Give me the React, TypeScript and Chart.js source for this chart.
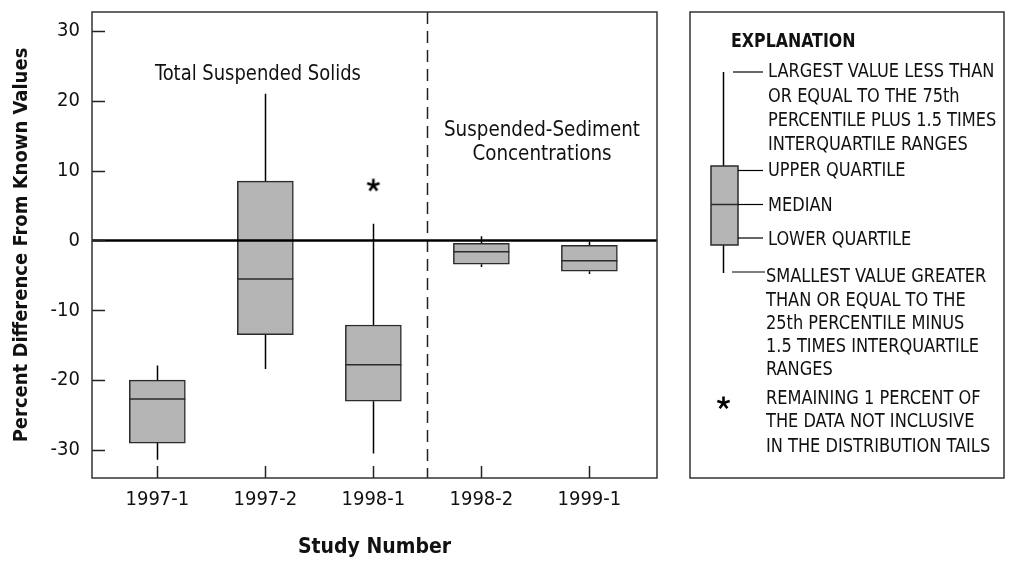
import React, { useEffect, useRef } from 'react';
import { Chart, registerables } from 'chart.js';

Chart.register(...registerables);

// ---------- data ----------
const categories = ['1997-1', '1997-2', '1998-1', '1998-2', '1999-1'];
const studyIndex = [1, 2, 3, 4, 5];
const upperWhisker = [-17.9, 21.0, 2.4, 0.6, -0.2];
const upperQuartile = [-20.0, 8.5, -12.1, -0.4, -0.7];
const medianValue = [-22.7, -5.5, -17.8, -1.6, -2.9];
const lowerQuartile = [-29.0, -13.5, -23.0, -3.4, -4.4];
const lowerWhisker = [-31.4, -18.4, -30.5, -3.8, -4.8];
const outlierStudy = [3];
const outlierValue = [7.9];
const yTickValues = [-30, -20, -10, 0, 10, 20, 30];
const dividerAt = 3.5;

const legendLines = [
  'LARGEST VALUE LESS THAN',
  'OR EQUAL TO THE 75th',
  'PERCENTILE PLUS 1.5 TIMES',
  'INTERQUARTILE RANGES',
  'UPPER QUARTILE',
  'MEDIAN',
  'LOWER QUARTILE',
  'SMALLEST VALUE GREATER',
  'THAN OR EQUAL TO THE',
  '25th PERCENTILE MINUS',
  '1.5 TIMES INTERQUARTILE',
  'RANGES',
  'REMAINING 1 PERCENT OF',
  'THE DATA NOT INCLUSIVE',
  'IN THE DISTRIBUTION TAILS',
];

// ---------- styling ----------
const FONT = "'DejaVu Sans Condensed', 'Liberation Sans Narrow', 'Arial Narrow', sans-serif";
const BOX_FILL = '#b5b5b5';
const BOX_EDGE = '#2b2b2b';
const INK = '#111111';

function drawAsterisk(g: CanvasRenderingContext2D, cx: number, cy: number, r: number) {
  g.save();
  g.strokeStyle = '#000';
  g.lineWidth = 2.6;
  g.lineCap = 'butt';
  for (let i = 0; i < 5; i++) {
    const a = -Math.PI / 2 + (i * 2 * Math.PI) / 5;
    g.beginPath();
    g.moveTo(cx, cy);
    g.lineTo(cx + r * Math.cos(a), cy + r * Math.sin(a));
    g.stroke();
  }
  g.restore();
}

function makeAsteriskImage(): HTMLCanvasElement {
  const c = document.createElement('canvas');
  c.width = 16;
  c.height = 16;
  const g = c.getContext('2d')!;
  drawAsterisk(g, 8, 8, 6.5);
  return c;
}

function condensedText(
  g: CanvasRenderingContext2D,
  text: string,
  x: number,
  y: number,
  sx: number,
) {
  g.save();
  g.translate(x, y);
  g.scale(sx, 1);
  g.fillText(text, 0, 0);
  g.restore();
}

const boxPlotPlugin = {
  id: 'boxPlotDecor',
  beforeDatasetsDraw(chart: any) {
    const { ctx, chartArea: a, scales } = chart;
    const x = scales.x;
    ctx.save();
    // divider
    ctx.strokeStyle = '#222';
    ctx.lineWidth = 1.5;
    ctx.setLineDash([12, 7]);
    const dx = Math.round(x.getPixelForValue(dividerAt)) + 0.5;
    ctx.beginPath();
    ctx.moveTo(dx, a.top);
    ctx.lineTo(dx, a.bottom);
    ctx.stroke();
    ctx.setLineDash([]);
    // whiskers
    ctx.strokeStyle = '#000';
    ctx.lineWidth = 1.5;
    const y = scales.y;
    studyIndex.forEach((s, i) => {
      const px = Math.round(x.getPixelForValue(s)) + 0.5;
      ctx.beginPath();
      ctx.moveTo(px, y.getPixelForValue(upperWhisker[i]));
      ctx.lineTo(px, y.getPixelForValue(upperQuartile[i]));
      ctx.moveTo(px, y.getPixelForValue(lowerQuartile[i]));
      ctx.lineTo(px, y.getPixelForValue(lowerWhisker[i]));
      ctx.stroke();
    });
    ctx.restore();
  },
  afterDatasetsDraw(chart: any) {
    const { ctx, chartArea: a, scales } = chart;
    const x = scales.x;
    const y = scales.y;
    ctx.save();
    // medians
    ctx.strokeStyle = BOX_EDGE;
    ctx.lineWidth = 1.5;
    const half = 28;
    studyIndex.forEach((s, i) => {
      const px = x.getPixelForValue(s);
      const py = y.getPixelForValue(medianValue[i]);
      ctx.beginPath();
      ctx.moveTo(px - half, py);
      ctx.lineTo(px + half, py);
      ctx.stroke();
    });
    // zero line
    ctx.strokeStyle = '#000';
    ctx.lineWidth = 2.6;
    const zy = y.getPixelForValue(0);
    ctx.beginPath();
    ctx.moveTo(a.left, zy);
    ctx.lineTo(a.right, zy);
    ctx.stroke();
    // inner ticks
    ctx.strokeStyle = '#222';
    ctx.lineWidth = 1.5;
    yTickValues.forEach((v) => {
      const py = Math.round(y.getPixelForValue(v)) + 0.5;
      ctx.beginPath();
      ctx.moveTo(a.left, py);
      ctx.lineTo(a.left + 13, py);
      ctx.stroke();
    });
    studyIndex.forEach((s) => {
      const px = Math.round(x.getPixelForValue(s)) + 0.5;
      ctx.beginPath();
      ctx.moveTo(px, a.bottom);
      ctx.lineTo(px, a.bottom - 12);
      ctx.stroke();
    });
    // frame
    ctx.strokeStyle = '#333';
    ctx.lineWidth = 1.5;
    ctx.strokeRect(a.left, a.top, a.right - a.left, a.bottom - a.top);
    // annotations
    ctx.fillStyle = INK;
    ctx.font = `21px ${FONT}`;
    ctx.textAlign = 'center';
    ctx.textBaseline = 'middle';
    condensedText(ctx, 'Total Suspended Solids', a.left + 166, a.top + 63, 0.95);
    condensedText(ctx, 'Suspended-Sediment', a.left + 450, a.top + 119, 0.97);
    condensedText(ctx, 'Concentrations', a.left + 450, a.top + 143, 0.97);

    // ---------- explanation box ----------
    const L = a.right + 33;
    const R = 1004;
    ctx.strokeStyle = '#333';
    ctx.lineWidth = 1.5;
    ctx.strokeRect(L, a.top, R - L, a.bottom - a.top);
    ctx.textAlign = 'left';
    ctx.font = `bold 20px ${FONT}`;
    condensedText(ctx, 'EXPLANATION', L + 41, 42, 0.88);

    const wx = L + 33.5;
    const boxL = L + 21;
    const boxR = L + 48;
    const qTop = 166;
    const qBot = 245;
    const med = 204.5;
    ctx.strokeStyle = '#000';
    ctx.lineWidth = 1.5;
    ctx.beginPath();
    ctx.moveTo(wx, 72);
    ctx.lineTo(wx, qTop);
    ctx.moveTo(wx, qBot);
    ctx.lineTo(wx, 273);
    ctx.stroke();
    ctx.fillStyle = BOX_FILL;
    ctx.fillRect(boxL, qTop, boxR - boxL, qBot - qTop);
    ctx.strokeStyle = BOX_EDGE;
    ctx.strokeRect(boxL, qTop, boxR - boxL, qBot - qTop);
    ctx.beginPath();
    ctx.moveTo(boxL, med);
    ctx.lineTo(boxR, med);
    ctx.stroke();
    ctx.strokeStyle = '#000';
    ctx.lineWidth = 1.2;
    const leaders: [number, number, number][] = [
      [L + 43, L + 73, 72],
      [boxR, L + 73, 170.5],
      [boxR, L + 73, 204.5],
      [boxR, L + 73, 238],
      [L + 42, L + 75, 272],
    ];
    leaders.forEach(([x0, x1, yy]) => {
      ctx.beginPath();
      ctx.moveTo(x0, yy);
      ctx.lineTo(x1, yy);
      ctx.stroke();
    });
    const lineY = [72, 96.7, 121, 145, 170.7, 205.7, 240, 277, 301, 323.5, 347, 370, 398.5, 422, 446.5];
    ctx.fillStyle = INK;
    ctx.font = `20px ${FONT}`;
    legendLines.forEach((t, i) => {
      condensedText(ctx, t, i < 7 ? L + 78 : L + 76, lineY[i], 0.9);
    });
    drawAsterisk(ctx, wx, 403, 6.5);
    ctx.restore();
  },
};

export default function App() {
  const ref = useRef<HTMLCanvasElement | null>(null);
  useEffect(() => {
    if (!ref.current) return;
    const chart = new Chart(ref.current, {
      type: 'bar',
      data: {
        datasets: [
          {
            type: 'bar',
            data: studyIndex.map((s, i) => ({ x: s, y: [lowerQuartile[i], upperQuartile[i]] })) as any,
            backgroundColor: BOX_FILL,
            borderColor: BOX_EDGE,
            borderWidth: 1.5,
            borderSkipped: false,
            barThickness: 56,
            grouped: false,
          } as any,
          {
            type: 'scatter',
            data: outlierStudy.map((s, i) => ({ x: s, y: outlierValue[i] })),
            pointStyle: makeAsteriskImage() as any,
            pointRadius: 7,
          } as any,
        ],
      },
      options: {
        animation: false,
        responsive: true,
        maintainAspectRatio: false,
        layout: { padding: { left: 0, top: 12, right: 357, bottom: 0 } },
        plugins: { legend: { display: false }, tooltip: { enabled: false } },
        scales: {
          x: {
            type: 'linear',
            min: 0.395,
            max: 5.626,
            offset: false,
            grid: { display: false, drawTicks: false },
            border: { display: false },
            afterBuildTicks: (scale: any) => {
              scale.ticks = studyIndex.map((v) => ({ value: v }));
            },
            afterFit: (scale: any) => {
              scale.height = 87;
              scale.paddingLeft = 0;
              scale.paddingRight = 0;
            },
            ticks: {
              autoSkip: false,
              maxRotation: 0,
              padding: 10,
              color: INK,
              font: { family: FONT, size: 20 },
              callback: (v: any) => categories[studyIndex.indexOf(Number(v))] ?? '',
            },
            title: {
              display: true,
              text: 'Study Number',
              color: INK,
              font: { family: FONT, size: 21, weight: 'bold' },
              padding: { top: 0, bottom: 5 },
            },
          },
          y: {
            type: 'linear',
            min: -34,
            max: 32.7,
            grid: { display: false, drawTicks: false },
            border: { display: false },
            afterBuildTicks: (scale: any) => {
              scale.ticks = yTickValues.map((v) => ({ value: v }));
            },
            afterFit: (scale: any) => {
              scale.width = 92;
              scale.paddingTop = 0;
              scale.paddingBottom = 0;
            },
            ticks: {
              padding: 12,
              color: INK,
              font: { family: FONT, size: 20 },
              callback: (v: any) => String(v),
            },
            title: {
              display: true,
              text: 'Percent Difference From Known Values',
              color: INK,
              font: { family: FONT, size: 20, weight: 'bold' },
              padding: { top: 10, bottom: 0 },
            },
          },
        },
      } as any,
      plugins: [boxPlotPlugin],
    });
    return () => chart.destroy();
  }, []);

  return (
    <div style={{ position: 'fixed', left: 0, top: 0, width: 1014, height: 565, background: '#fff' }}>
      <canvas ref={ref} />
    </div>
  );
}
